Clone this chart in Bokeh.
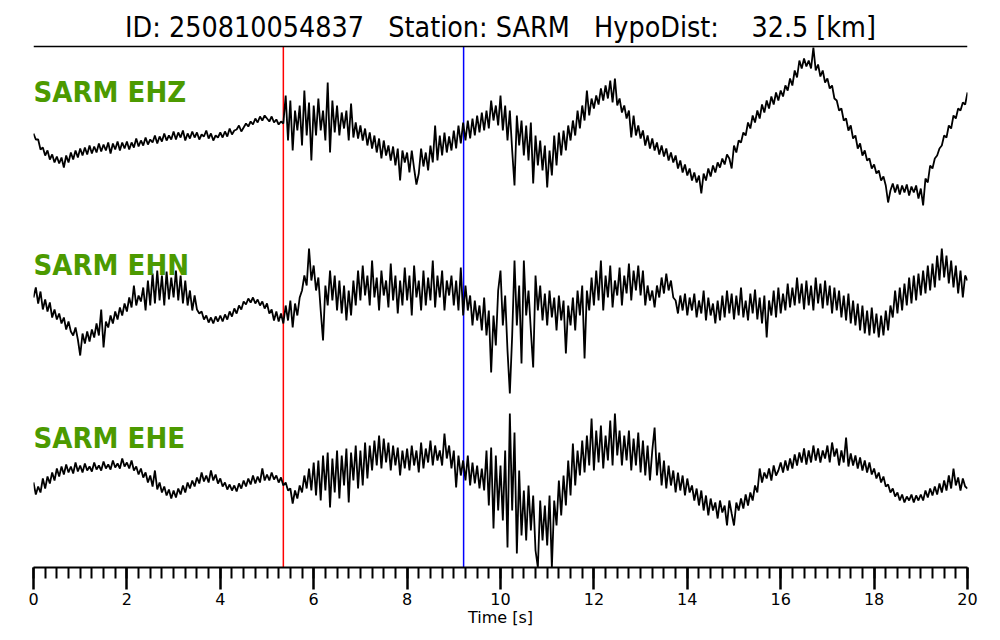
from bokeh.plotting import figure
from bokeh.models import Range1d, Label, FixedTicker
from bokeh.embed import file_html
from bokeh.resources import INLINE

event_id = "250810054837"
station = "SARM"
hypo_dist_km = 32.5
channels = ["EHZ", "EHN", "EHE"]
p_pick_s = 5.35
s_pick_s = 9.21
dt = 0.05
x_ticks = [0, 2, 4, 6, 8, 10, 12, 14, 16, 18, 20]

ehz = [
    7, 1, 1, -9, -7, -15, -10, -19, -14, -22, -16, -23, -17, -27, -15, -22, -12, -19, -10, -17,
    -8, -15, -7, -14, -5, -13, -6, -12, -3, -11, -4, -10, -2, -13, -3, -9, -1, -10, -2, -8,
    -1, -9, -2, -7, 2, -6, 0, -5, 3, -4, 1, -2, 5, -3, 4, -1, 7, 0, 5, 1,
    9, 1, 8, 3, 10, 0, 7, 2, 9, 3, 8, 1, 6, 4, 10, 2, 7, 0, 5, 3,
    8, 3, 9, 4, 12, 6, 10, 11, 15, 9, 13, 17, 14, 19, 16, 22, 18, 24, 20, 25,
    22, 19, 24, 18, 21, 16, 19, 17, 45, 0, 40, -10, 30, 10, 35, -5, 50, 5, 38, -20,
    35, 5, 42, 10, 30, 0, 58, -12, 40, 8, 35, 5, 28, 12, 30, 0, 37, 3, 18, 2,
    15, 0, 12, -5, 8, -8, 5, -12, 2, -18, 0, -15, -5, -20, -6, -25, -8, -40, -10, -22,
    -12, -32, -10, -28, -44, -33, -8, -26, -12, -30, -5, -22, 15, -20, 5, -15, 8, -12, 4, -10,
    10, -8, 15, -3, 18, 0, 20, 2, 22, 5, 25, 8, 28, 10, 30, 12, 40, 20, 35, 15,
    45, 10, 35, 0, 30, -10, -45, 25, -5, 20, -15, 15, -20, 18, -43, 5, -25, 0, -30, -5,
    -47, -10, -35, 5, -25, 8, -15, 10, -10, 15, 0, 20, 5, 30, 12, 35, 20, 50, 25, 42,
    32, 45, 36, 52, 40, 55, 42, 60, 38, 62, 35, 42, 28, 35, 22, 30, 3, 25, 5, 15,
    2, 10, -5, 5, -8, 2, -10, -2, -14, -5, -16, -8, -20, -12, -22, -15, -28, -20, -32, -24,
    -35, -28, -40, -32, -42, -35, -53, -33, -40, -28, -36, -25, -32, -22, -27, -18, -24, -14, -18, -28,
    -5, -12, 0, -2, 8, 5, 18, 12, 25, 18, 30, 22, 36, 28, 40, 32, 44, 36, 48, 40,
    50, 44, 55, 50, 62, 55, 70, 63, 80, 72, 82, 74, 80, 72, 93, 70, 76, 64, 70, 58,
    62, 52, 55, 42, 40, 30, 32, 20, 22, 10, 15, 2, 5, -8, -3, -15, -10, -20, -18, -28,
    -24, -33, -30, -40, -36, -45, -62, -50, -43, -52, -44, -54, -45, -52, -44, -55, -46, -52, -45, -58,
    -48, -65, -38, -42, -25, -28, -18, -15, -8, -5, 5, 3, 15, 12, 25, 22, 32, 30, 38, 36,
    48,
]

ehn = [
    8, 18, 2, 14, -4, 6, -6, 3, -12, -4, -14, -8, -18, -12, -24, -16, -26, -30, -22, -34,
    -50, -28, -38, -26, -36, -24, -32, -18, -30, -4, -42, -16, -22, -10, -18, -6, -14, -2, -10, 2,
    -6, 8, -2, 20, 0, 10, 4, 18, -5, 25, 0, 32, 2, 35, 5, 30, 0, 34, 6, 28,
    8, 35, 5, 30, 2, 25, 0, 15, -5, 10, -4, -8, -6, -14, -10, -17, -12, -18, -11, -16,
    -10, -16, -9, -14, -6, -11, -3, -8, 0, -4, 4, 1, 7, 3, 8, 2, 6, 0, 4, -3,
    2, -8, -4, -15, -6, -16, -8, -18, 0, -15, 5, -22, 2, -10, 8, 15, 30, 20, 57, 25,
    40, 15, 28, -5, -35, 20, 0, 35, 5, 30, -5, 25, -8, 20, -15, 15, -10, 25, 0, 35,
    5, 40, 10, 30, 0, 45, 8, 28, -5, 35, 10, 25, -2, 42, 5, 30, -8, 25, 0, 38,
    5, 30, -10, 40, 8, 25, -5, 35, 0, 28, 5, 45, -2, 30, 8, 35, -5, 25, 10, 30,
    0, 25, -5, 38, -10, 20, -5, 10, -20, 5, -15, 0, -25, 8, -30, -5, -67, -10, -40, 15,
    35, -20, 10, -45, -88, -30, 45, -20, 20, -58, 45, -10, 15, -25, -62, 30, -5, 20, -15, 12,
    -20, 15, -12, 8, -25, 10, -15, 5, -48, 0, -20, 8, -25, 15, -10, 20, -53, 15, -5, 28,
    0, 35, 5, 45, -5, 30, 8, 40, -2, 25, 10, 38, 0, 30, 12, 42, 5, 35, 15, 40,
    10, 35, 0, 20, 5, 15, -2, 20, 8, 28, 12, 32, 15, 25, 8, 5, -8, 10, -5, 12,
    -10, 8, -5, 12, -12, 5, -8, 15, -15, 8, -10, 2, -18, 5, -15, 10, -12, 15, -8, 12,
    -14, 10, -10, 18, -12, 5, -15, 12, -8, 16, -14, 8, -18, 10, -32, 5, -10, 15, -12, 18,
    -8, 12, -5, 22, -2, 18, 0, 28, 2, 22, -4, 25, 0, 20, -5, 28, 2, 22, -3, 25,
    0, 20, -8, 18, -5, 15, -12, 10, -15, 12, -18, 5, -20, 2, -25, 0, -28, -5, -30, -2,
    -28, -8, -32, -10, -30, -5, -25, 0, -12, 15, -8, 18, -5, 22, 0, 28, 2, 30, 5, 32,
    10, 35, 12, 40, 15, 42, 18, 50, 25, 57, 28, 50, 22, 45, 18, 40, 12, 35, 8, 30,
    25,
]

ehe = [
    -2, -14, -6, -12, 2, -8, 4, -3, 8, 0, 12, 4, 14, 6, 16, 8, 14, 7, 18, 9,
    15, 8, 17, 10, 14, 9, 18, 11, 15, 10, 19, 12, 16, 11, 20, 13, 17, 12, 22, 14,
    18, 12, 20, 10, 14, 6, 12, 3, 8, -2, 5, -6, 10, -9, -2, -12, -6, -15, -9, -18,
    -10, -17, -8, -14, -5, -12, -2, -8, 0, -6, 3, -3, 8, -1, 5, -2, 10, 0, 6, -3,
    2, -6, -2, -9, -4, -10, -5, -11, -3, -8, 0, -6, 2, -4, 5, -3, 4, -2, 12, 0,
    6, 0, 8, 1, 5, -2, 3, -5, -2, -10, -8, -23, -10, -18, -5, -12, 5, -8, 12, -10,
    18, -15, 20, -20, 25, -10, 28, -27, 22, -12, 30, -18, 25, -5, 32, -22, 28, 0, 35, -8,
    30, -5, 38, 2, 35, 10, 40, 15, 45, 12, 42, 18, 38, 10, 35, 15, 33, 5, 30, 12,
    32, 10, 35, 15, 30, 8, 38, 12, 32, 18, 40, 15, 35, 20, 30, 15, 47, 22, 35, 12,
    30, -7, 25, 5, 20, 0, 25, -5, 18, -3, 15, -8, 12, -10, 30, -25, 33, -48, 25, -30,
    15, -40, 30, -67, 67, -30, 48, -73, 10, -55, -10, -60, -5, -50, -15, -70, -87, -20, -60, -25,
    -65, -15, -87, -20, -45, 0, -35, 5, -25, 20, -15, 37, -5, 30, 5, 40, 8, 45, 15, 62,
    10, 50, 18, 55, 12, 45, 20, 60, 15, 67, 25, 50, 15, 45, 20, 50, 10, 42, 15, 48,
    8, 40, 5, 35, 0, 30, 53, 5, 28, -5, 20, -8, 15, -5, 10, -12, 8, -10, 5, -15,
    2, -12, -5, -20, -8, -25, -10, -30, -15, -35, -18, -30, -22, -38, -20, -32, -25, -45, -20, -33,
    -45, -22, -30, -18, -28, -14, -25, -12, -20, -5, -12, 12, -2, 8, 2, 12, 0, 15, 5, 10,
    18, 8, 20, 10, 22, 12, 26, 15, 28, 18, 32, 16, 30, 18, 35, 20, 32, 18, 30, 22,
    35, 18, 38, 24, 32, 15, 30, 18, 43, 14, 27, 15, 25, 12, 23, 10, 20, 8, 18, 6,
    12, 2, 8, -2, 4, -6, -4, -12, -8, -16, -12, -20, -14, -22, -16, -20, -14, -22, -15, -20,
    -14, -20, -10, -17, -8, -15, -6, -14, -3, -12, 0, -10, 5, -8, 12, -5, 3, -10, 2, -6,
    -8,
]

traces = {"EHZ": ehz, "EHN": ehn, "EHE": ehe}
trace_offset = {"EHZ": 427, "EHN": 262, "EHE": 87}
label_y = {"EHZ": 476, "EHN": 303, "EHE": 130}
panel_top = 521
title_y = 540

p = figure(width=984, height=632, x_range=Range1d(0, 20), y_range=Range1d(0, 567),
           output_backend="svg", toolbar_location=None, y_axis_location=None,
           min_border_left=33, min_border_right=17, min_border_top=0, min_border_bottom=65)
p.grid.visible = False
p.outline_line_color = None

p.segment(x0=[p_pick_s], y0=[0], x1=[p_pick_s], y1=[panel_top], line_color="#ff0000", line_width=1.5)
p.segment(x0=[s_pick_s], y0=[0], x1=[s_pick_s], y1=[panel_top], line_color="#0000ff", line_width=1.5)
p.segment(x0=[0], y0=[panel_top], x1=[20], y1=[panel_top], line_color="black", line_width=1.6)

for ch in channels:
    vals = traces[ch]
    t = [i * dt for i in range(len(vals))]
    y = [trace_offset[ch] + v for v in vals]
    p.line(t, y, line_color="black", line_width=1.8)
    p.add_layout(Label(x=0, y=label_y[ch], text=f"{station} {ch}", text_font="DejaVu Sans Condensed",
                       text_font_style="bold", text_font_size="29px", text_color="#4c9a00",
                       text_align="left", text_baseline="alphabetic"))

sp = "\u00a0"
title = f"ID: {event_id}{sp*3}Station: {station}{sp*3}HypoDist:{sp*4}{hypo_dist_km:.1f} [km]"
p.add_layout(Label(x=10, y=title_y, text=title, text_font="DejaVu Sans Condensed", text_font_size="28.4px",
                   text_color="black", text_align="center", text_baseline="alphabetic"))

ax = p.xaxis[0]
ax.ticker = FixedTicker(ticks=x_ticks, minor_ticks=[i * 0.25 for i in range(81)])
ax.axis_line_width = 2
ax.axis_line_color = "black"
ax.major_tick_out = 22
ax.major_tick_in = 0
ax.minor_tick_out = 11
ax.minor_tick_in = 0
ax.major_tick_line_width = 2.5
ax.minor_tick_line_width = 2
ax.major_tick_line_color = "black"
ax.minor_tick_line_color = "black"
ax.major_label_text_font = "DejaVu Sans"
ax.major_label_text_font_size = "16px"
ax.major_label_text_color = "black"
ax.major_label_standoff = 3
ax.axis_label = "Time [s]"
ax.axis_label_text_font = "DejaVu Sans"
ax.axis_label_text_font_size = "16px"
ax.axis_label_text_font_style = "normal"
ax.axis_label_text_color = "black"
ax.axis_label_standoff = 0

open("out.html", "w").write(file_html(p, INLINE))
